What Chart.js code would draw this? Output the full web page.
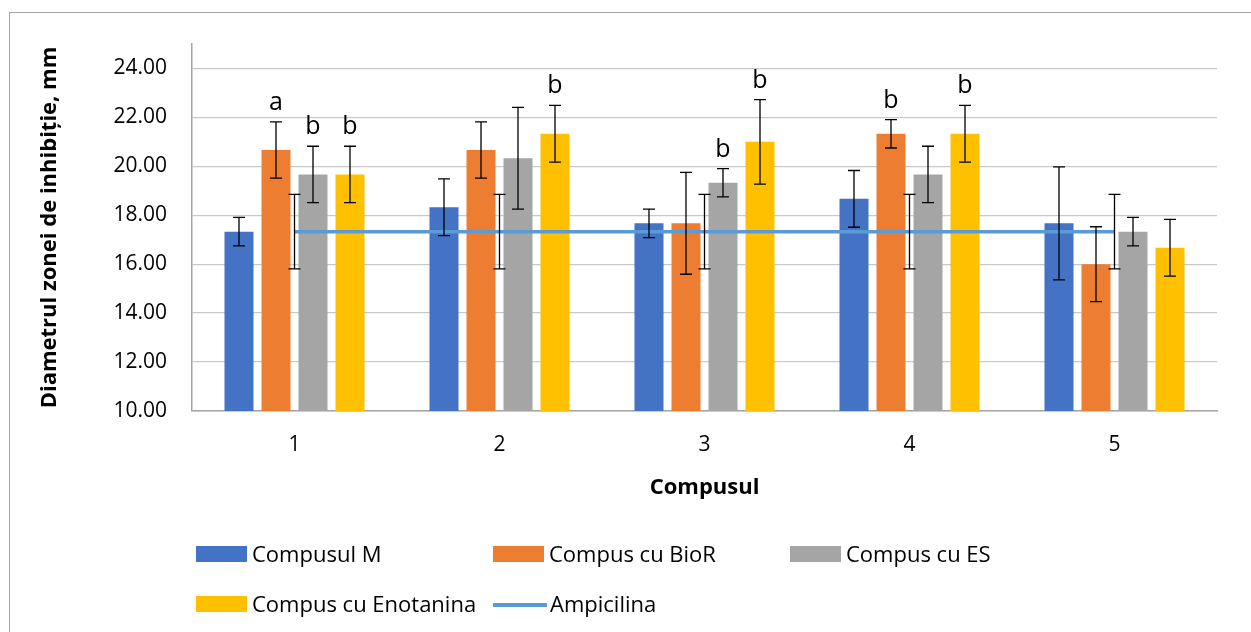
<!DOCTYPE html>
<html>
<head>
<meta charset="utf-8">
<script src="https://cdn.jsdelivr.net/npm/chart.js@4.4.1/dist/chart.umd.min.js"></script>
<style>
  html, body { margin: 0; padding: 0; background: #fff; }
  #wrap { position: relative; width: 1251px; height: 632px; overflow: hidden; font-family: 'Open Sans', sans-serif; }
  #frame { position: absolute; left: 9px; top: 12px; width: 1300px; height: 700px; border: 1px solid #a6a6a6; box-sizing: border-box; }
  canvas { position: absolute; left: 0; top: 0; }
  #legend { position: absolute; left: 196px; top: 539px; width: 900px; display: flex; flex-wrap: wrap; }
  .item { width: 297px; height: 50px; display: flex; align-items: flex-start; font-size: 22px; color: #000; }
  .swatch { width: 51px; height: 16px; margin-top: 7px; margin-right: 5px; flex: none; }
  .lineSw { width: 54px; height: 3.5px; margin-top: 14px; margin-right: 3px; flex: none; }
  .item span { line-height: 28px; }
</style>
</head>
<body>
<div id="wrap">
  <div id="frame"></div>
  <canvas id="c" width="1251" height="632"></canvas>
  <div id="legend"></div>
</div>
<script>
// categories
const compounds = ['1', '2', '3', '4', '5'];

// mean values
const compusulM   = [17.33, 18.33, 17.67, 18.67, 17.67];
const compusBioR  = [20.67, 20.67, 17.67, 21.33, 16.00];
const compusES    = [19.67, 20.33, 19.33, 19.67, 17.33];
const compusEno   = [19.67, 21.33, 21.00, 21.33, 16.67];
const ampicilina  = [17.33, 17.33, 17.33, 17.33, 17.33];

// standard deviations (error bars)
const errM    = [0.58, 1.16, 0.58, 1.16, 2.31];
const errBioR = [1.15, 1.15, 2.08, 0.58, 1.53];
const errES   = [1.15, 2.08, 0.58, 1.15, 0.58];
const errEno  = [1.15, 1.16, 1.73, 1.16, 1.16];
const errAmp  = [1.52, 1.52, 1.52, 1.52, 1.52];

// significance letters
const lettersM    = ['', '', '', '', ''];
const lettersBioR = ['a', '', '', 'b', ''];
const lettersES   = ['b', '', 'b', '', ''];
const lettersEno  = ['b', 'b', 'b', 'b', ''];

const yTicks = [10, 12, 14, 16, 18, 20, 22, 24];

const colors = {
  m: '#4472C4',
  bior: '#ED7D31',
  es: '#A5A5A5',
  eno: '#FFC000',
  amp: '#5B9BD5',
  grid: '#c9c9c9'
};

const FONT = "'Open Sans', sans-serif";

const errorBars = {
  id: 'errorBars',
  afterDatasetsDraw(chart) {
    const ctx = chart.ctx;
    const y = chart.scales.y;
    ctx.save();
    ctx.strokeStyle = '#000';
    ctx.lineWidth = 1.3;
    chart.data.datasets.forEach((ds, i) => {
      const meta = chart.getDatasetMeta(i);
      meta.data.forEach((el, j) => {
        const v = ds.data[j], e = ds.errors[j];
        const top = y.getPixelForValue(v + e);
        const bot = y.getPixelForValue(v - e);
        const x = el.x;
        ctx.beginPath();
        ctx.moveTo(x, top); ctx.lineTo(x, bot);
        ctx.moveTo(x - 6, top); ctx.lineTo(x + 6, top);
        ctx.moveTo(x - 6, bot); ctx.lineTo(x + 6, bot);
        ctx.stroke();
        const lab = ds.letters ? ds.letters[j] : '';
        if (lab) {
          ctx.fillStyle = '#000';
          ctx.font = '25px ' + FONT;
          ctx.textAlign = 'center';
          ctx.textBaseline = 'alphabetic';
          ctx.fillText(lab, x, top - 12);
        }
      });
    });
    ctx.restore();
  }
};

const chart = new Chart(document.getElementById('c'), {
  data: {
    labels: compounds,
    datasets: [
      { type: 'line', label: 'Ampicilina', data: ampicilina, errors: errAmp,
        borderColor: colors.amp, backgroundColor: colors.amp, borderWidth: 3.5,
        pointRadius: 0, order: 0 },
      { type: 'bar', label: 'Compusul M', data: compusulM, errors: errM, letters: lettersM,
        backgroundColor: colors.m, order: 1 },
      { type: 'bar', label: 'Compus cu BioR', data: compusBioR, errors: errBioR, letters: lettersBioR,
        backgroundColor: colors.bior, order: 1 },
      { type: 'bar', label: 'Compus cu ES', data: compusES, errors: errES, letters: lettersES,
        backgroundColor: colors.es, order: 1 },
      { type: 'bar', label: 'Compus cu Enotanina', data: compusEno, errors: errEno, letters: lettersEno,
        backgroundColor: colors.eno, order: 1 }
    ]
  },
  options: {
    responsive: false,
    animation: false,
    devicePixelRatio: 1,
    layout: { padding: { left: 20, right: 34, top: 44, bottom: 120 } },
    datasets: {
      bar: { barPercentage: 0.784, categoryPercentage: 0.722 }
    },
    plugins: {
      legend: { display: false },
      tooltip: { enabled: false }
    },
    scales: {
      x: {
        grid: { display: false, drawTicks: false },
        border: { color: '#a6a6a6', width: 1.5 },
        ticks: { font: { size: 21, family: FONT }, color: '#000', padding: 21 },
        title: { display: true, text: 'Compusul', color: '#000',
                 font: { size: 22, weight: 'bold', family: FONT }, padding: { top: 0, bottom: 11 } },
        afterFit: s => { s.height = 101; }
      },
      y: {
        min: 10, max: 25,
        grid: { color: colors.grid, lineWidth: 1.3, drawTicks: false },
        border: { color: '#a6a6a6', width: 1.5 },
        ticks: { stepSize: 2, padding: 25, color: '#000',
                 font: { size: 21, family: FONT },
                 callback: v => v.toFixed(2) },
        afterBuildTicks: s => { s.ticks = yTicks.map(v => ({ value: v })); },
        title: { display: true, text: 'Diametrul zonei de inhibiție, mm', color: '#000',
                 font: { size: 22, weight: 'bold', family: FONT }, padding: { top: 17, bottom: 0 } },
        afterFit: s => { s.width = 172; }
      }
    }
  },
  plugins: [errorBars]
});

// HTML legend in the Excel order
const legendOrder = [1, 2, 3, 4, 0];
const legend = document.getElementById('legend');
legendOrder.forEach(i => {
  const ds = chart.data.datasets[i];
  const item = document.createElement('div');
  item.className = 'item';
  const sw = document.createElement('div');
  sw.className = ds.type === 'line' ? 'lineSw' : 'swatch';
  sw.style.background = ds.type === 'line' ? ds.borderColor : ds.backgroundColor;
  const t = document.createElement('span');
  t.textContent = ds.label;
  item.appendChild(sw);
  item.appendChild(t);
  legend.appendChild(item);
});
</script>
</body>
</html>
